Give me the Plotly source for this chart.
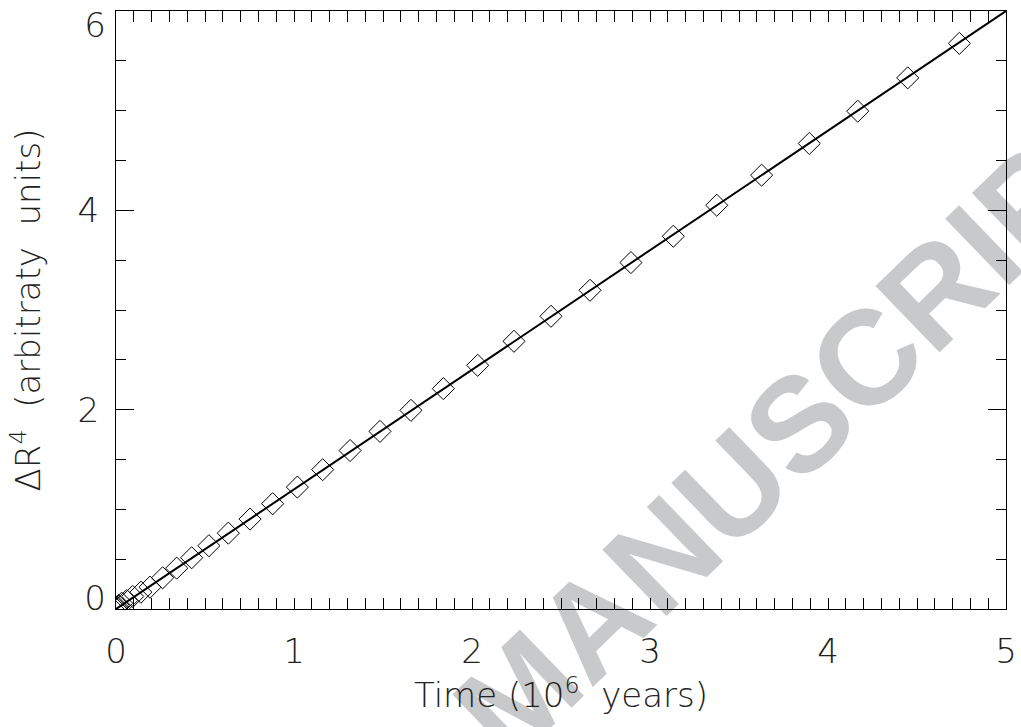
import plotly.graph_objects as go

# Data
time_myr = [0.0, 0.004, 0.008, 0.013, 0.032, 0.060, 0.094, 0.140, 0.191, 0.262,
            0.341, 0.425, 0.522, 0.631, 0.753, 0.880, 1.019, 1.161, 1.315, 1.483,
            1.657, 1.839, 2.032, 2.236, 2.444, 2.663, 2.893, 3.131, 3.375, 3.627,
            3.895, 4.167, 4.448, 4.738]
delta_r4 = [0.0, 0.010, 0.020, 0.035, 0.058, 0.085, 0.126, 0.169, 0.219, 0.313,
            0.410, 0.514, 0.635, 0.761, 0.902, 1.056, 1.223, 1.398, 1.590, 1.782,
            1.993, 2.211, 2.445, 2.686, 2.937, 3.198, 3.476, 3.740, 4.051, 4.353,
            4.671, 4.995, 5.329, 5.675]
fit_x = [0.0, 5.0]
fit_y = [0.0, 6.0]

y_major = [0, 2, 4, 6]
y_inner_labels = ["", "2", "4", ""]

x_title = "Time (10<sup>6</sup>  years)"
y_title = "ΔR<sup>4</sup>  (arbitraty  units)"
watermark = "<b>MANUSCRIPT</b>"

FONT = "DejaVu Sans"
TXT = "#222"
tick_font = dict(family=FONT, size=34, color=TXT, weight=200)

fig = go.Figure()
fig.add_trace(go.Scatter(x=fit_x, y=fit_y, mode="lines",
                         line=dict(color="black", width=2), showlegend=False))
fig.add_trace(go.Scatter(x=time_myr, y=delta_r4, mode="markers",
                         marker=dict(symbol="diamond-open", size=17, color="black",
                                     line=dict(width=1, color="black")),
                         showlegend=False))
# empty traces so the label-only overlay axes are drawn
fig.add_trace(go.Scatter(x=[], y=[], yaxis="y2", showlegend=False, hoverinfo="skip"))
fig.add_trace(go.Scatter(x=[], y=[], yaxis="y3", showlegend=False, hoverinfo="skip"))

# watermark centred on the "S" of the reference
wx = (790 - 116) / 890
wy = (609 - 414) / 598
fig.add_shape(type="rect", xref="paper", yref="paper",
              x0=wx - 0.01, x1=wx + 0.01, y0=wy - 0.01, y1=wy + 0.01,
              line=dict(width=0), fillcolor="rgba(0,0,0,0)", layer="below",
              label=dict(text=watermark, textangle=-44, textposition="middle center",
                         font=dict(size=134, color="#c8c9cb", family="Liberation Sans")))

axis_common = dict(showgrid=False, zeroline=False, showline=True, linecolor="black",
                   linewidth=1, mirror="allticks", ticks="inside", tickcolor="black",
                   tickwidth=1, ticklabeloverflow="allow", tickfont=tick_font)

fig.update_layout(
    xaxis=dict(range=[0, 5], tick0=0, dtick=1, ticklen=11,
               minor=dict(dtick=0.1, tick0=0, ticks="inside", ticklen=5, tickcolor="black"),
               ticklabelstandoff=12,
               title=dict(text=x_title, standoff=2,
                          font=dict(family=FONT, size=34, color=TXT, weight=200)),
               **axis_common),
    yaxis=dict(range=[0, 6], tickmode="array", tickvals=y_major, ticktext=y_inner_labels,
               ticklen=18,
               minor=dict(dtick=0.5, tick0=0, ticks="inside", ticklen=10, tickcolor="black"),
               ticklabelstandoff=9,
               title=dict(text=y_title, standoff=26,
                          font=dict(family=FONT, size=34, color=TXT, weight=200)),
               **axis_common),
    # end labels nudged inward as in the reference
    yaxis2=dict(range=[0, 6], overlaying="y", anchor="x", side="left",
                tickmode="array", tickvals=[y_major[-1]], ticktext=[str(y_major[-1])],
                ticks="", showline=False, showgrid=False, zeroline=False,
                ticklabelstandoff=9, ticklabelshift=14, ticklabeloverflow="allow",
                tickfont=tick_font),
    yaxis3=dict(range=[0, 6], overlaying="y", anchor="x", side="left",
                tickmode="array", tickvals=[y_major[0]], ticktext=[str(y_major[0])],
                ticks="", showline=False, showgrid=False, zeroline=False,
                ticklabelstandoff=9, ticklabelshift=-11, ticklabeloverflow="allow",
                tickfont=tick_font),
    width=1021, height=727,
    margin=dict(l=116, r=15, t=11, b=118, autoexpand=False),
    paper_bgcolor="white", plot_bgcolor="rgba(0,0,0,0)",
)
fig.write_html("out.html", config={"displayModeBar": False},
               post_script="document.body.style.margin='0';")
